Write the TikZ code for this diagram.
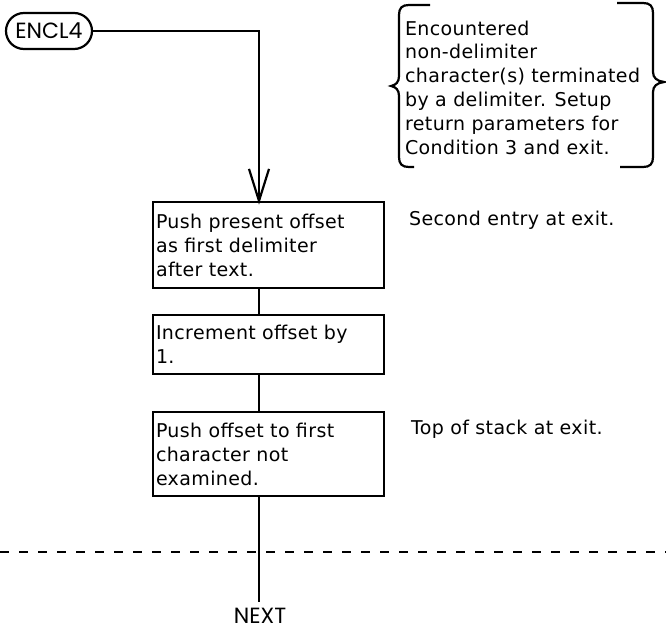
\documentclass[tikz,border=0pt]{standalone}
\usepackage{fontspec}
\setmainfont{DejaVu Sans}
\newfontfamily\boxfont[LetterSpace=2]{DejaVu Sans}
\newfontfamily\capfont{Poppins}
\begin{document}
\begin{tikzpicture}[x=1pt,y=-1pt,
  every path/.style={line width=2.2pt},
  lbl/.style={font=\boxfont\fontsize{19}{24}\selectfont, inner sep=2pt},
  procbox/.style={draw, line width=2.2pt, rectangle, minimum width=231pt,
     text width=225pt, inner xsep=3pt, inner ysep=0pt, align=left,
     font=\boxfont\fontsize{19}{24}\selectfont},
  term/.style={draw, line width=2.2pt, rounded corners=18pt, minimum width=86pt,
     minimum height=36pt, inner sep=0pt, font=\capfont\fontsize{22}{24}\selectfont},
  exitlbl/.style={inner sep=0pt, font=\capfont\fontsize{22}{24}\selectfont}
]
\useasboundingbox (0,0) rectangle (666,634);

% terminal
\node[term] (e) at (49,31) {ENCL4};

% process boxes
\node[procbox, minimum height=86pt] (b1) at (268.5,245) {Push present offset\\as first delimiter\\after text.};
\node[procbox, minimum height=59pt] (b2) at (268.5,344.5) {Increment offset by\\1.};
\node[procbox, minimum height=84pt] (b3) at (268.5,454) {Push offset to first\\character not\\examined.};

% exit label
\node[exitlbl] (nx) at (260,616) {NEXT};

% side notes
\node[lbl, anchor=west] (n1) at (406,220) {Second entry at exit.};
\node[lbl, anchor=west] (n2) at (408,429) {Top of stack at exit.};
\node[lbl, anchor=west, align=left, font=\boxfont\fontsize{19}{23.8}\selectfont] (cm) at (402,87.5)
  {Encountered\\non-delimiter\\character(s) terminated\\by a delimiter. Setup\\return parameters for\\Condition 3 and exit.};

% connectors
\coordinate (c1) at (259,31);
\coordinate (tip) at (c1 |- b1.north);
\draw (e.east) -- (c1) -- (tip);
\draw (tip) ++(-10,-32) -- (tip) -- ++(10,-32);
\draw (c1 |- b1.south) -- (c1 |- b2.north);
\draw (c1 |- b2.south) -- (c1 |- b3.north);
\draw (c1 |- b3.south) -- ([yshift=5pt]c1 |- nx.north);

% dashed separator
\coordinate (d0) at (0,552);
\coordinate (d1) at (666,552);
\draw[dash pattern=on 9pt off 10pt, line width=2pt] (d0) -- (d1);

% braces around comment
\draw (430,5) -- (409,5) .. controls (402,5) and (399,8) .. (399,15) -- (399,76)
  .. controls (399,82) and (396,85) .. (391,86) .. controls (396,87) and (399,90) .. (399,96)
  -- (399,157) .. controls (399,164) and (402,167) .. (409,167) -- (414,167);
\draw (617,3) -- (643,3) .. controls (650,3) and (653,6) .. (653,13) -- (653,72)
  .. controls (653,78) and (657,81) .. (664,82) .. controls (657,83) and (653,86) .. (653,92)
  -- (653,157) .. controls (653,164) and (650,167) .. (643,167) -- (620,167);
\end{tikzpicture}
\end{document}
